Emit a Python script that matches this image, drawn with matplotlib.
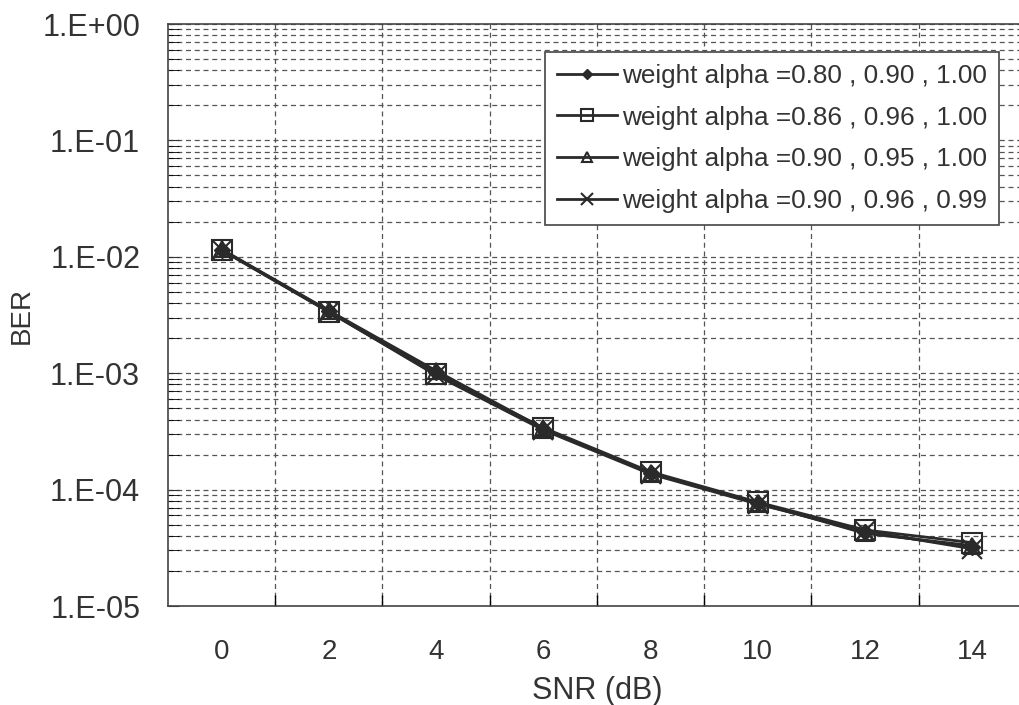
import matplotlib
matplotlib.use("Agg")
import matplotlib.pyplot as plt
import numpy as np
from matplotlib.ticker import FixedLocator, FuncFormatter, LogLocator

plt.rcParams['font.family'] = ['Liberation Sans', 'DejaVu Sans']

snr = [0, 2, 4, 6, 8, 10, 12, 14]
ber_a = [1.15e-2, 3.40e-3, 1.02e-3, 3.30e-4, 1.40e-4, 7.6e-5, 4.3e-5, 3.2e-5]
ber_b = [1.14e-2, 3.35e-3, 9.8e-4, 3.40e-4, 1.42e-4, 7.8e-5, 4.5e-5, 3.5e-5]
ber_c = [1.16e-2, 3.45e-3, 1.05e-3, 3.35e-4, 1.38e-4, 7.7e-5, 4.2e-5, 3.3e-5]
ber_d = [1.15e-2, 3.38e-3, 9.6e-4, 3.25e-4, 1.36e-4, 7.5e-5, 4.4e-5, 3.1e-5]
labels = ["weight alpha =0.80 , 0.90 , 1.00",
          "weight alpha =0.86 , 0.96 , 1.00",
          "weight alpha =0.90 , 0.95 , 1.00",
          "weight alpha =0.90 , 0.96 , 0.99"]

fig = plt.figure(figsize=(10.2, 7.05), dpi=100)
ax = fig.add_axes([168/1020, 1-606/705, 858/1020, 582/705])

lc = '#2a2a2a'
ax.plot(snr, ber_a, color=lc, lw=2, marker='D', ms=8, mfc=lc, mec=lc, label=labels[0])
ax.plot(snr, ber_b, color=lc, lw=2, marker='s', ms=15, mfc='none', mec=lc, mew=1.5, label=labels[1])
ax.plot(snr, ber_c, color=lc, lw=2, marker='^', ms=12, mfc='none', mec=lc, mew=1.5, label=labels[2])
ax.plot(snr, ber_d, color=lc, lw=2, marker='x', ms=15, mec=lc, mew=1.5, label=labels[3])

ax.set_yscale('log')
ax.set_ylim(1e-5, 1)
ax.set_xlim(-1, 15)

ax.yaxis.set_major_locator(LogLocator(base=10, numticks=10))
ax.yaxis.set_minor_locator(LogLocator(base=10, subs=np.arange(2, 10), numticks=10))
ax.yaxis.set_major_formatter(FuncFormatter(lambda v, p: "1.E%+03d" % int(round(np.log10(v)))))
ax.yaxis.set_minor_formatter(FuncFormatter(lambda v, p: ""))
ax.set_xticks(snr)
ax.xaxis.set_minor_locator(FixedLocator(np.arange(1, 15, 2)))

ax.tick_params(axis='x', which='major', labelsize=20, colors='#333333', length=0, pad=24)
ax.tick_params(axis='y', which='major', labelsize=22, colors='#333333',
               direction='in', length=8, pad=20)
ax.tick_params(axis='x', which='minor', direction='in', length=8, width=1, bottom=True)
ax.tick_params(axis='y', which='minor', direction='in', length=8)

ax.grid(True, axis='y', which='both', ls=(0, (4, 3)), lw=0.9, color='#555555')
ax.grid(True, axis='x', which='minor', ls=(0, (4, 3)), lw=0.9, color='#555555')
ax.grid(False, axis='x', which='major')

for s in ax.spines.values():
    s.set_color('#444444')
    s.set_linewidth(1.2)

ax.set_xlabel("SNR (dB)", fontsize=22, color='#333333', labelpad=8)
ax.set_ylabel("BER", fontsize=20, color='#333333')
ax.yaxis.set_label_coords(-0.155, 0.5)

leg = ax.legend(loc='upper left', bbox_to_anchor=(545/1020, 1-52/705),
                bbox_transform=fig.transFigure, fontsize=18.8, markerscale=0.6,
                handlelength=2.3, labelspacing=0.68, borderpad=0.45, borderaxespad=0,
                handletextpad=0.2, fancybox=False, framealpha=1)
leg.get_frame().set_edgecolor('#444444')
leg.get_frame().set_linewidth(1.2)
for t in leg.get_texts():
    t.set_color('#333333')

fig.savefig("out.png", dpi=100)
